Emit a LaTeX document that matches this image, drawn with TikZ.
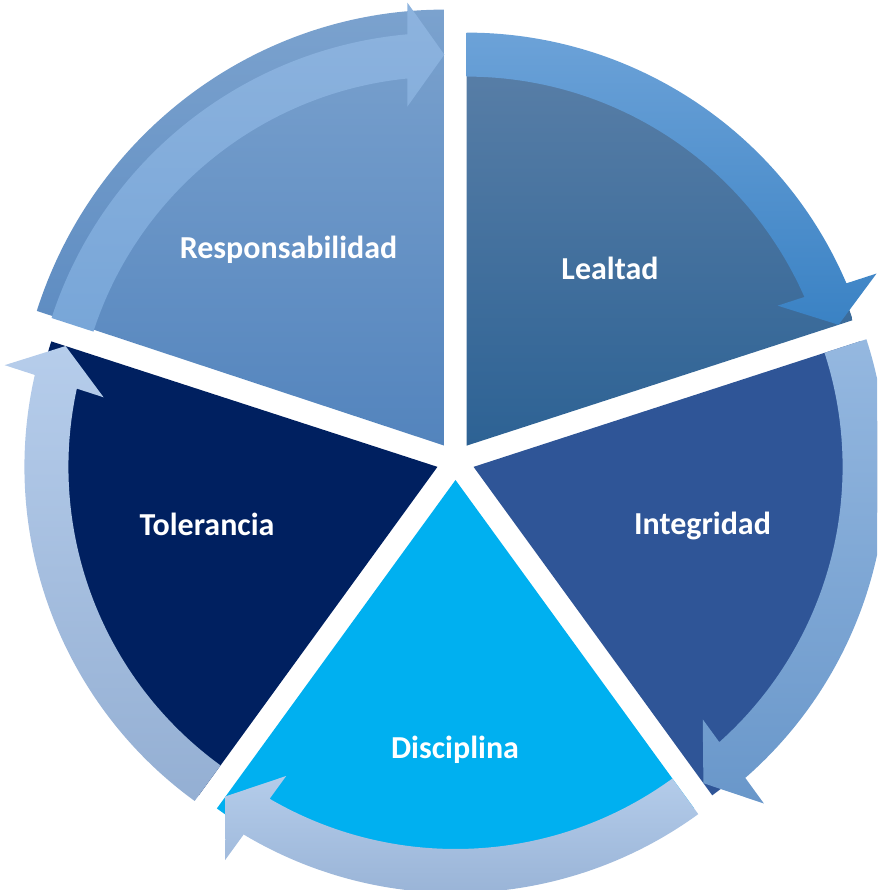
\documentclass[tikz,border=0pt]{standalone}
\usepackage{fontspec}
\setmainfont{Carlito}
\usetikzlibrary{calc}

\definecolor{respTop}{HTML}{7BA2CE}
\definecolor{respBot}{HTML}{5384BD}
\definecolor{lealTop}{HTML}{5B80A8}
\definecolor{lealBot}{HTML}{2D6294}
\definecolor{integC}{HTML}{2F5597}
\definecolor{discC}{HTML}{00B0F0}
\definecolor{tolerC}{HTML}{002060}
\definecolor{respArTop}{HTML}{8DB3DE}
\definecolor{respArBot}{HTML}{78A6D8}
\definecolor{lealArTop}{HTML}{6CA2D8}
\definecolor{lealArBot}{HTML}{3A82C4}
\definecolor{integArTop}{HTML}{95B8E0}
\definecolor{integArBot}{HTML}{6997CA}
\definecolor{discArTop}{HTML}{B4CCEA}
\definecolor{discArBot}{HTML}{94AFD3}
\definecolor{tolerArTop}{HTML}{B6CDEB}
\definecolor{tolerArBot}{HTML}{94AFD3}

% #1 apex, #2 tail angle, #3 style
\newcommand\segwedge[3]{%
  \pgfmathsetmacro\wgT{#2-72}%
  \path[#3] (#1) -- ($(#1)+(\wgT:406pt)$)
    arc[start angle=\wgT, end angle=#2, radius=406pt] -- cycle;}

% #1 apex, #2 tail angle, #3 top colour, #4 bottom colour
\newcommand\segarrow[4]{%
  \pgfmathsetmacro\arT{#2-72}%
  \pgfmathsetmacro\arJo{\arT+5.14}%
  \pgfmathsetmacro\arJi{\arT+5.755}%
  \pgfmathsetmacro\arB{\arT+90}%
  \shade[top color=#3, bottom color=#4]
    ($(#1)+(#2:413pt)$) arc[start angle=#2, end angle=\arJo, radius=413pt]
    -- ($(#1)+(\arT:443pt)+(\arB:37pt)$)
    -- ($(#1)+(\arT:391pt)$)
    -- ($(#1)+(\arT:339pt)+(\arB:37pt)$)
    -- ($(#1)+(\arJi:369pt)$)
    arc[start angle=\arJi, end angle=#2, radius=369pt] -- cycle;}

\begin{document}
\begin{tikzpicture}[x=1pt,y=1pt,
  lbl/.style={text=white, font=\fontsize{32}{38}\selectfont\bfseries, anchor=base, inner sep=0pt}]
\useasboundingbox (0,0) rectangle (877,890);
\clip (0,0) rectangle (877,890);

\coordinate (C0) at (455.5,429);
\coordinate (Presp) at ($(C0)+(126:19pt)$);
\coordinate (Pleal) at ($(C0)+(54:19pt)$);
\coordinate (Pinteg) at ($(C0)+(-18:19pt)$);
\coordinate (Pdisc) at ($(C0)+(-90:19pt)$);
\coordinate (Ptoler) at ($(C0)+(198:19pt)$);

% wedges
\shade[top color=respTop, bottom color=respBot] (Presp) -- ($(Presp)+(0,436)$)
  arc[start angle=90, end angle=162, x radius=428.5pt, y radius=436pt] -- cycle;
\segwedge{Pleal}{90}{top color=lealTop, bottom color=lealBot}
\segwedge{Pinteg}{18}{fill=integC}
\segwedge{Pdisc}{-54}{fill=discC}
\segwedge{Ptoler}{234}{fill=tolerC}

% arrows
\segarrow{Presp}{162}{respArTop}{respArBot}
\segarrow{Pleal}{90}{lealArTop}{lealArBot}
\segarrow{Pinteg}{18}{integArTop}{integArBot}
\segarrow{Pdisc}{-54}{discArTop}{discArBot}
\segarrow{Ptoler}{234}{tolerArTop}{tolerArBot}

% labels
\node[lbl] (tresp) at (288.5,631.7) {Responsabilidad};
\node[lbl] (tleal) at (610,610) {Lealtad};
\node[lbl] (tinteg) at (702.5,355) {Integridad};
\node[lbl] (tdisc) at (455,131.7) {Disciplina};
\node[lbl] (ttoler) at (207,354) {Tolerancia};
\end{tikzpicture}
\end{document}
